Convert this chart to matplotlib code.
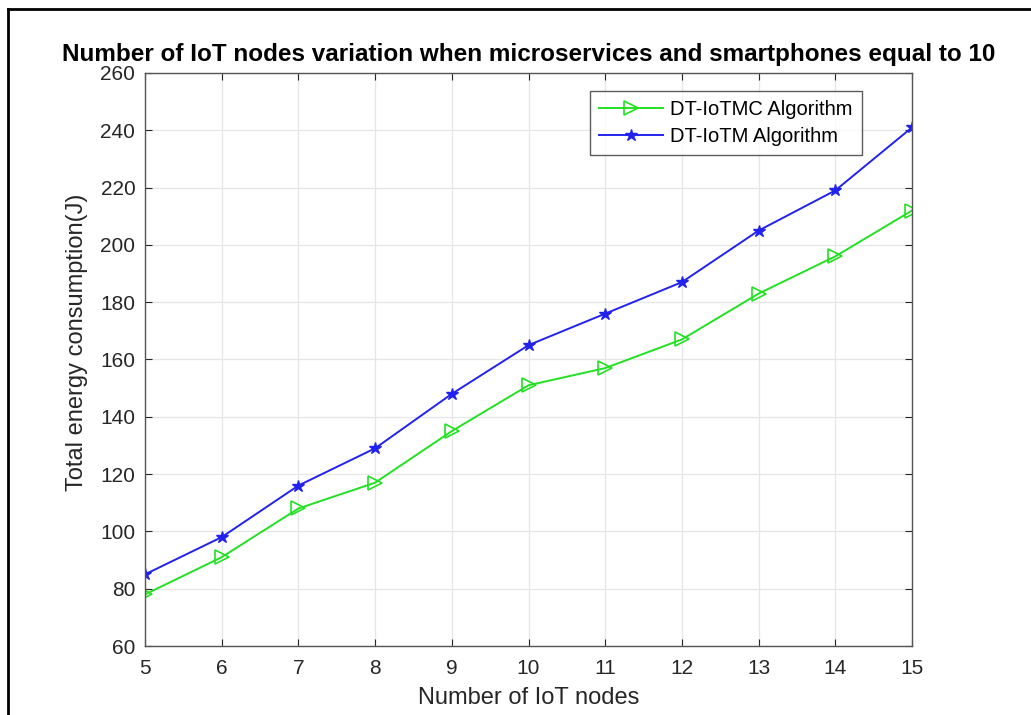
import matplotlib
matplotlib.use("Agg")
import matplotlib.pyplot as plt
from matplotlib.lines import Line2D

plt.rcParams['font.family'] = ['Liberation Sans', 'DejaVu Sans']

# data
iot_nodes = [5, 6, 7, 8, 9, 10, 11, 12, 13, 14, 15]
dt_iotmc = [78, 91, 108, 117, 135, 151, 157, 167, 183, 196, 212]
dt_iotm = [85, 98, 116, 129, 148, 165, 176, 187, 205, 219, 241]
y_ticks = [60, 80, 100, 120, 140, 160, 180, 200, 220, 240, 260]

W, H = 1031, 715
fig = plt.figure(figsize=(W / 100, H / 100), dpi=100)
ax = fig.add_axes([145 / W, 1 - 646 / H, (912 - 145) / W, (646 - 73) / H])

ax.plot(iot_nodes, dt_iotmc, color='#22e022', marker='>', markersize=10,
        markerfacecolor='none', markeredgewidth=1.2, linewidth=1.4,
        label='DT-IoTMC Algorithm')
ax.plot(iot_nodes, dt_iotm, color='#2222ee', marker='*', markersize=9,
        linewidth=1.4, label='DT-IoTM Algorithm')

ax.set_xlim(5, 15)
ax.set_ylim(60, 260)
ax.set_xticks(iot_nodes)
ax.set_yticks(y_ticks)
ax.grid(True, color='#e6e6e6', linewidth=0.9)
ax.tick_params(direction='in', length=5, colors='#262626', labelsize=15,
               top=True, right=True, labeltop=False, labelright=False)
ax.tick_params(axis='x', pad=9)
ax.tick_params(axis='y', pad=7)
for s in ax.spines.values():
    s.set_color('#555555')
    s.set_linewidth(1.0)

ax.set_xlabel('Number of IoT nodes', fontsize=17, color='#262626', labelpad=7)
ax.set_ylabel('Total energy consumption(J)', fontsize=17, color='#262626')
ax.yaxis.set_label_coords(-0.074, 0.53)
ax.set_title('Number of IoT nodes variation when microservices and smartphones equal to 10',
             fontsize=17.5, fontweight='bold', pad=9)

leg = ax.legend(loc='upper right', bbox_to_anchor=(862 / W, 1 - 91 / H),
                bbox_transform=fig.transFigure, fontsize=14.5, frameon=True,
                fancybox=False, edgecolor='#333333', handlelength=3.2,
                borderpad=0.45, labelspacing=0.4, handletextpad=0.35,
                borderaxespad=0)
leg.get_frame().set_linewidth(1.0)

# outer frame of the picture
fig.add_artist(Line2D([8 / W, 8 / W], [0, 1 - 9 / H], transform=fig.transFigure,
                      color='black', linewidth=2))
fig.add_artist(Line2D([8 / W, 1], [1 - 9 / H, 1 - 9 / H], transform=fig.transFigure,
                      color='black', linewidth=2))

fig.savefig('out.png', dpi=100)
